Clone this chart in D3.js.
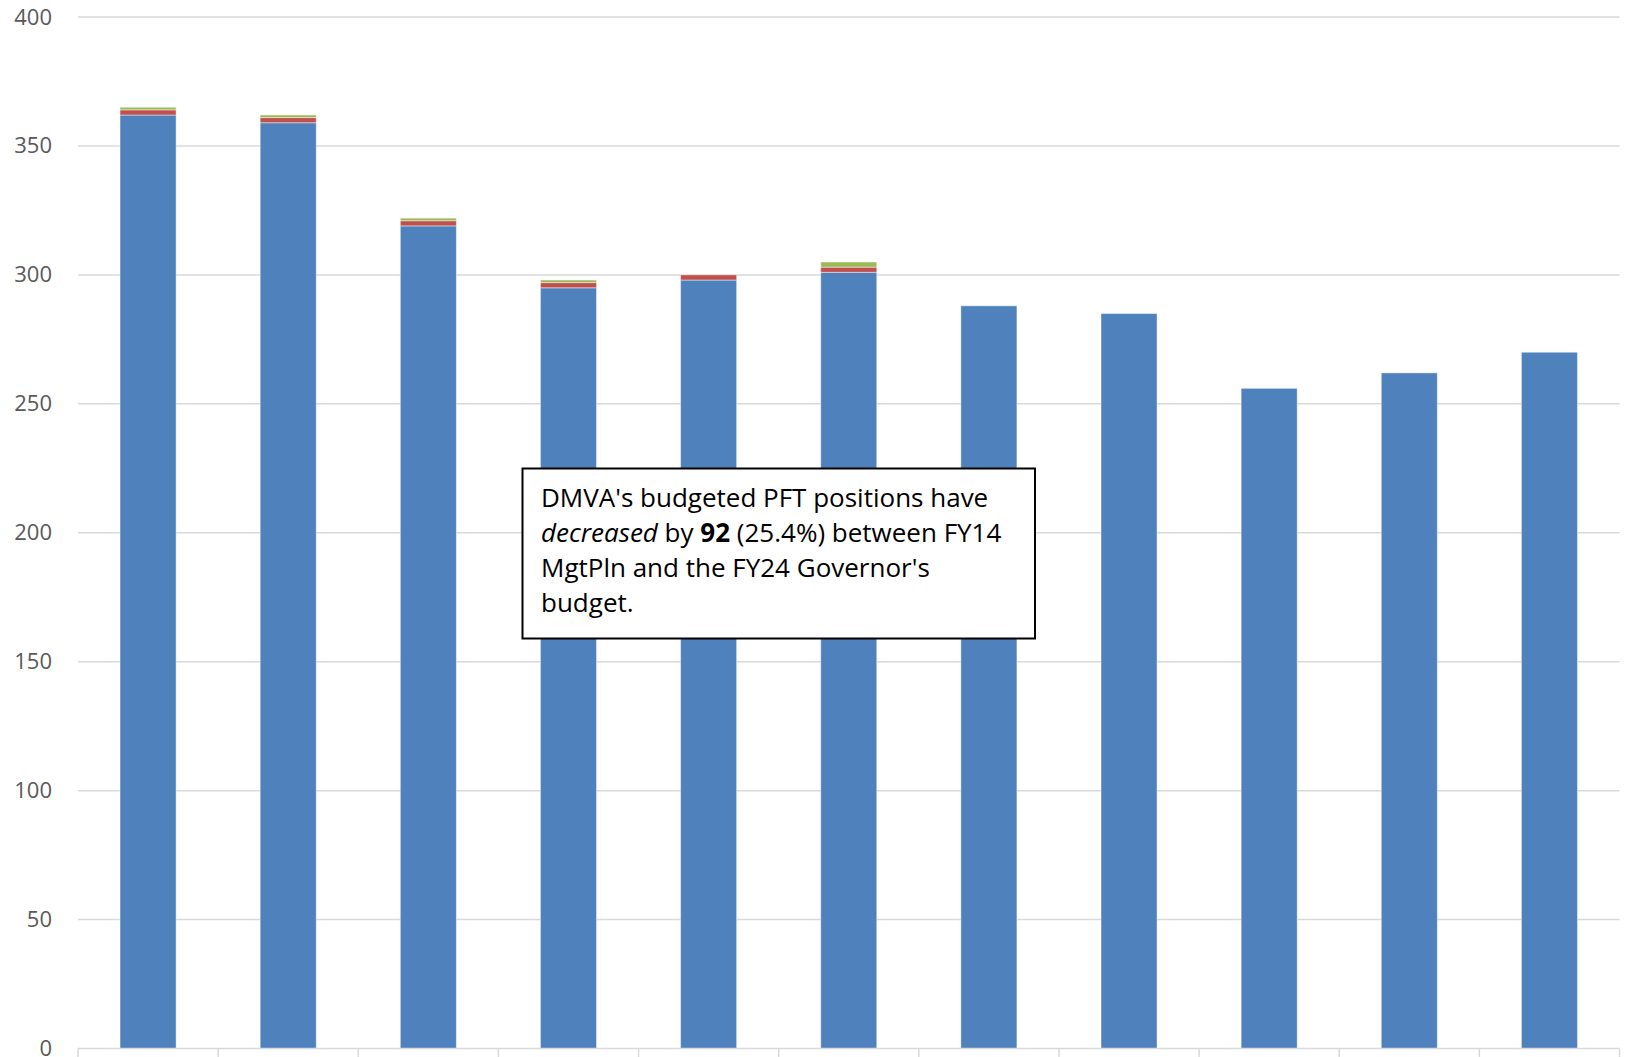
<!DOCTYPE html>
<html>
<head>
<meta charset="utf-8">
<script src="https://cdn.jsdelivr.net/npm/d3@7"></script>
<style>
  html, body { margin: 0; padding: 0; background: #fff; }
  svg { display: block; }
</style>
</head>
<body>
<svg id="chart" width="1626" height="1057"></svg>
<script>
// ---- Data ----
const categories = ["FY14 MgtPln", "FY15 MgtPln", "FY16 MgtPln", "FY17 MgtPln", "FY18 MgtPln",
                    "FY19 MgtPln", "FY20 MgtPln", "FY21 MgtPln", "FY22 MgtPln", "FY23 MgtPln", "FY24 Gov"];
const seriesNames = ["PFT positions (blue)", "Series 2 (red)", "Series 3 (green)"];
const blueValues  = [362, 359, 319, 295, 298, 301, 288, 285, 256, 262, 270];
const redValues   = [2, 2, 2, 2, 2, 2, 0, 0, 0, 0, 0];
const greenValues = [1, 1, 1, 1, 0, 2, 0, 0, 0, 0, 0];
const yTicks = [0, 50, 100, 150, 200, 250, 300, 350, 400];
const seriesColors = ["#4f81bd", "#c0504d", "#9bbb59"];

(function () {
// ---- Layout ----
const svg = d3.select("#chart");
const mLeft = 78, mRight = 1619.5, mTop = 17, mBottom = 1048.5;

const x = d3.scaleBand().domain(categories).range([mLeft, mRight])
  .paddingInner(0.6).paddingOuter(0.3);
const y = d3.scaleLinear().domain([0, 400]).range([mBottom, mTop]);

// gridlines
svg.append("g").selectAll("line").data(yTicks.filter(d => d > 0)).join("line")
  .attr("x1", mLeft).attr("x2", mRight)
  .attr("y1", d => y(d)).attr("y2", d => y(d))
  .attr("stroke", "#d9d9d9").attr("stroke-width", 1.5);

// y-axis labels
const yAxis = d3.axisLeft(y).tickValues(yTicks).tickSize(0).tickPadding(0);
const yg = svg.append("g").attr("transform", `translate(${mLeft - 26},0)`).call(yAxis);
yg.select(".domain").remove();
yg.selectAll("text")
  .attr("font-family", "'Open Sans', sans-serif")
  .attr("font-size", 22)
  .attr("fill", "#595959");

// stacked bars
const table = categories.map((c, i) => ({
  cat: c, blue: blueValues[i], red: redValues[i], green: greenValues[i]
}));
const stack = d3.stack().keys(["blue", "red", "green"]);
const layers = stack(table);

svg.append("g").selectAll("g").data(layers).join("g")
  .attr("fill", (d, i) => seriesColors[i])
  .selectAll("rect").data(d => d.filter(p => p[1] - p[0] > 0)).join("rect")
  .attr("x", d => x(d.data.cat))
  .attr("width", x.bandwidth())
  .attr("y", d => y(d[1]))
  .attr("height", d => y(d[0]) - y(d[1]))
  .attr("stroke", "rgba(255,255,255,0.45)")
  .attr("stroke-width", 1);

// x axis line and category boundary ticks
const xAxisG = svg.append("g");
xAxisG.append("line")
  .attr("x1", mLeft).attr("x2", mRight)
  .attr("y1", mBottom).attr("y2", mBottom)
  .attr("stroke", "#d9d9d9").attr("stroke-width", 1.5);
xAxisG.selectAll("line.tick").data(d3.range(categories.length + 1)).join("line")
  .attr("class", "tick")
  .attr("x1", i => mLeft + i * x.step()).attr("x2", i => mLeft + i * x.step())
  .attr("y1", mBottom).attr("y2", mBottom + 10)
  .attr("stroke", "#d9d9d9").attr("stroke-width", 1.5);

// annotation box
const boxX = 522.5, boxY = 468.5, boxW = 512.5, boxH = 170;
svg.append("rect")
  .attr("x", boxX).attr("y", boxY).attr("width", boxW).attr("height", boxH)
  .attr("fill", "#fff").attr("stroke", "#000").attr("stroke-width", 2);

const txt = svg.append("text")
  .attr("font-family", "'Open Sans', sans-serif")
  .attr("font-size", 26)
  .attr("fill", "#000");
const tx = 541, lineH = 35.3, baseY = 506.5;
txt.append("tspan").attr("x", tx).attr("y", baseY).text("DMVA's budgeted PFT positions have");
txt.append("tspan").attr("x", tx).attr("y", baseY + lineH)
  .attr("font-style", "italic").text("decreased");
txt.append("tspan").text(" by ");
txt.append("tspan").attr("font-weight", "bold").text("92");
txt.append("tspan").text(" (25.4%) between FY14");
txt.append("tspan").attr("x", tx).attr("y", baseY + 2 * lineH).text("MgtPln and the FY24 Governor's");
txt.append("tspan").attr("x", tx).attr("y", baseY + 3 * lineH).text("budget.");
})();
</script>
</body>
</html>
